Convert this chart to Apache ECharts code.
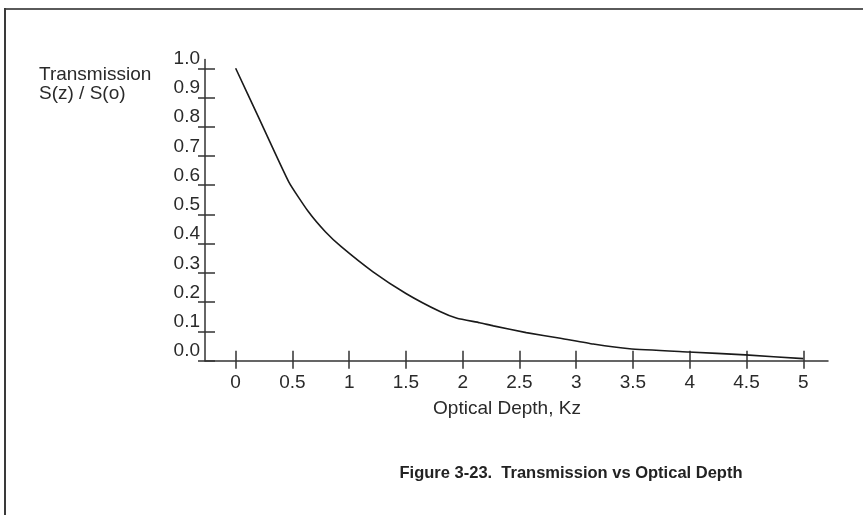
<!DOCTYPE html>
<html>
<head>
<meta charset="utf-8">
<script src="https://cdn.jsdelivr.net/npm/echarts@6/dist/echarts.min.js"></script>
<style>
html,body{margin:0;padding:0;background:#fff;}
#chart{width:863px;height:515px;}
</style>
</head>
<body>
<div id="chart"></div>
<script>
// Data
var depthValues = [0, 0.2, 0.47, 0.64, 0.79, 0.93, 1.21, 1.5, 1.8, 1.95, 2.15, 2.27, 2.56, 2.86, 3.15, 3.47, 3.99, 4.49, 5.0];
var transmissionValues = [1.0, 0.834, 0.61, 0.51, 0.441, 0.39, 0.304, 0.230, 0.168, 0.145, 0.130, 0.119, 0.096, 0.077, 0.057, 0.041, 0.030, 0.020, 0.007];
var xTickValues = [0, 0.5, 1, 1.5, 2, 2.5, 3, 3.5, 4, 4.5, 5];
var yTickValues = [0, 0.1, 0.2, 0.3, 0.4, 0.5, 0.6, 0.7, 0.8, 0.9, 1.0];
var yAxisTitle = "Transmission\nS(z) / S(o)";
var xAxisTitle = "Optical Depth, Kz";
var figureTitle = "Figure 3-23.  Transmission vs Optical Depth";

var points = depthValues.map(function (d, i) { return [d, transmissionValues[i]]; });

var FONT = '"Liberation Sans", Arial, Helvetica, sans-serif';
var INK = '#2a2a2a';
var AX = '#333333';

var chart = echarts.init(document.getElementById('chart'), null, {renderer: 'canvas'});

var xBase = {
  type: 'value', min: -0.27, max: 5.218, position: 'bottom',
  splitLine: {show: false}
};
var yBase = {
  type: 'value', min: 0, max: 1.03, position: 'left',
  splitLine: {show: false}
};

chart.setOption({
  backgroundColor: '#ffffff',
  animation: false,
  grid: {left: 205, right: 35, top: 59.5, bottom: 154.3, containLabel: false},
  xAxis: [
    Object.assign({}, xBase, {
      axisLine: {show: true, onZero: false, lineStyle: {color: AX, width: 1.5}},
      axisTick: {show: true, inside: false, length: 8, customValues: xTickValues, lineStyle: {color: AX, width: 1.5}},
      axisLabel: {show: true, customValues: xTickValues, margin: 13, color: INK, fontSize: 19, fontFamily: FONT,
        formatter: function (v) { return String(v); }}
    }),
    Object.assign({}, xBase, {
      axisLine: {show: false, onZero: false},
      axisTick: {show: true, inside: true, length: 10, customValues: xTickValues, lineStyle: {color: AX, width: 1.5}},
      axisLabel: {show: false}
    })
  ],
  yAxis: [
    Object.assign({}, yBase, {
      axisLine: {show: true, onZero: false, lineStyle: {color: AX, width: 1.5}},
      axisTick: {show: true, inside: false, length: 7, customValues: yTickValues, lineStyle: {color: AX, width: 1.5}},
      axisLabel: {show: true, customValues: yTickValues, margin: 5, verticalAlign: 'bottom', color: INK, fontSize: 19, fontFamily: FONT,
        formatter: function (v) { return v.toFixed(1); }}
    }),
    Object.assign({}, yBase, {
      axisLine: {show: false, onZero: false},
      axisTick: {show: true, inside: true, length: 10, customValues: yTickValues, lineStyle: {color: AX, width: 1.5}},
      axisLabel: {show: false}
    })
  ],
  series: [{
    type: 'line',
    xAxisIndex: 0,
    yAxisIndex: 0,
    data: points,
    showSymbol: false,
    smooth: 0.15,
    lineStyle: {color: '#1a1a1a', width: 1.6},
    silent: true
  }],
  graphic: [
    {type: 'line', shape: {x1: 4, y1: 9, x2: 863, y2: 9}, style: {stroke: '#5a5a5a', lineWidth: 2}, silent: true},
    {type: 'line', shape: {x1: 5, y1: 8, x2: 5, y2: 515}, style: {stroke: '#3a3a3a', lineWidth: 2}, silent: true},
    {type: 'text', left: 39, top: 65, style: {text: yAxisTitle, fill: INK, font: '19px ' + FONT, lineHeight: 19}, silent: true},
    {type: 'text', x: 507, y: 409, style: {text: xAxisTitle, fill: INK, font: '19px ' + FONT, align: 'center', verticalAlign: 'middle'}, silent: true},
    {type: 'text', x: 571, y: 473, style: {text: figureTitle, fill: '#222222', font: 'bold 16.5px ' + FONT, align: 'center', verticalAlign: 'middle'}, silent: true}
  ]
});
</script>
</body>
</html>
